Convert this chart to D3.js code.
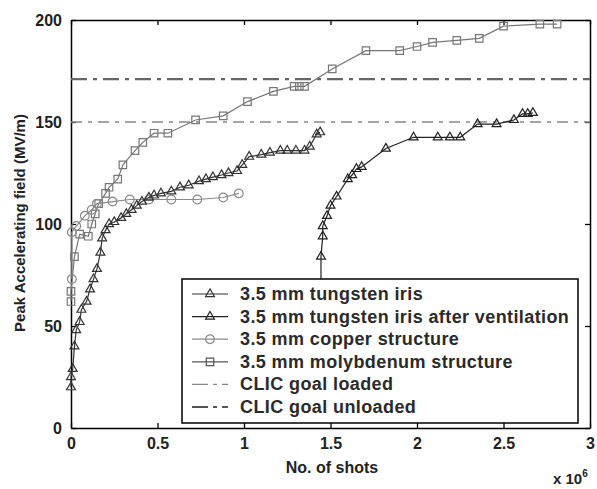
<!DOCTYPE html>
<html>
<head>
<meta charset="utf-8">
<script src="https://cdn.jsdelivr.net/npm/d3@7"></script>
<style>
  body { margin: 0; background: #fff; }
  text { font-family: "Liberation Sans", Arial, sans-serif; }
</style>
</head>
<body>
<svg id="chart" width="597" height="489"></svg>
<script>
// shots in units of 1e6, field in MV/m
const tungstenX = [0.0,0.0,0.01,0.02,0.03,0.05,0.06,0.09,0.11,0.13,0.15,0.17,0.18,0.2,0.22,0.25,0.29,0.32,0.35,0.38,0.41,0.45,0.48,0.52,0.58,0.63,0.68,0.74,0.78,0.82,0.87,0.91,0.96,0.99,1.03,1.1,1.15,1.21,1.25,1.3,1.35,1.38,1.42,1.44];
const tungstenY = [20,25,29,40,48,52,58,62,68,73,78,86,93,97,100,101,103,105,107,109,111,113,114,115,116,118,119,121,122,123,124,125,126,129,133,134,135,136,136,136,136,138,144,145];

const ventX = [1.445,1.445,1.455,1.455,1.48,1.5,1.535,1.6,1.625,1.65,1.68,1.82,1.98,2.12,2.19,2.25,2.35,2.46,2.56,2.61,2.64,2.67];
const ventY = [40,84,94,99,104,109,113.5,122,124,127,128,137,142.5,142.5,142.5,142.5,149,149,151,154,154,154.5];

const copperX = [0.005,0.005,0.03,0.08,0.12,0.15,0.24,0.34,0.45,0.58,0.73,0.88,0.97];
const copperY = [73,96,99,104,107,110,111,112,112,112,112,113,115];

const molyX = [0.0,0.0,0.02,0.05,0.1,0.12,0.14,0.16,0.2,0.22,0.27,0.3,0.37,0.415,0.48,0.56,0.72,0.88,1.02,1.17,1.29,1.32,1.35,1.51,1.705,1.9,2.0,2.09,2.23,2.36,2.5,2.71,2.81];
const molyY = [62,67,84,95,94,100,105,110,115,118,122,129,136,140,144.5,144.5,151,153,160,165,167.5,167.5,167.5,176,185,185,187,189,190,191,197,198,198];

const goalLoaded = 150;
const goalUnloaded = 171;

const xTicks = [0,0.5,1,1.5,2,2.5,3];
const yTicks = [0,50,100,150,200];
const legendLabels = ["3.5 mm tungsten iris","3.5 mm tungsten iris after ventilation","3.5 mm copper structure","3.5 mm molybdenum structure","CLIC goal loaded","CLIC goal unloaded"];

const svg = d3.select("#chart");
const margin = {top: 20, right: 7, bottom: 61, left: 71};
const width = 597 - margin.left - margin.right;
const height = 489 - margin.top - margin.bottom;

const x = d3.scaleLinear().domain([0,3]).range([0,width]);
const y = d3.scaleLinear().domain([0,200]).range([height,0]);

const g = svg.append("g").attr("transform","translate("+margin.left+","+margin.top+")");

// axes, ticks pointing inward on all sides
g.append("g").attr("transform","translate(0,"+height+")")
  .call(d3.axisBottom(x).tickValues(xTicks).tickSizeInner(-5).tickSizeOuter(0).tickPadding(10).tickFormat(d3.format("")));
g.append("g")
  .call(d3.axisLeft(y).tickValues(yTicks).tickSizeInner(-5).tickSizeOuter(0).tickPadding(9));
g.append("g")
  .call(d3.axisTop(x).tickValues(xTicks).tickSizeInner(-5).tickSizeOuter(0).tickFormat(""));
g.append("g").attr("transform","translate("+width+",0)")
  .call(d3.axisRight(y).tickValues(yTicks).tickSizeInner(-5).tickSizeOuter(0).tickFormat(""));
g.selectAll(".domain").attr("stroke","#000").attr("stroke-width",1.5);
g.selectAll(".tick line").attr("stroke","#000").attr("stroke-width",1.3);
g.selectAll(".tick text").style("font-size","16px").style("font-weight","bold").attr("fill","#222");

// goal lines
function goalLine(sel, val, color, w, dash){
  sel.append("line").attr("x1",0).attr("x2",width).attr("y1",y(val)).attr("y2",y(val))
    .attr("stroke",color).attr("stroke-width",w).attr("stroke-dasharray",dash);
}
goalLine(g, goalLoaded, "#888", 1.6, "11,6,4,6");
goalLine(g, goalUnloaded, "#666", 2.4, "16,6,4,6");

const line = d3.line().x(d=>x(d[0])).y(d=>y(d[1]));
const tri = d3.symbol().type(d3.symbolTriangle).size(34);
const circ = d3.symbol().type(d3.symbolCircle).size(60);
const sq = d3.symbol().type(d3.symbolSquare).size(56);

const series = [
  {xs: molyX, ys: molyY, color: "#777", sym: sq},
  {xs: copperX, ys: copperY, color: "#8a8a8a", sym: circ},
  {xs: tungstenX, ys: tungstenY, color: "#333", sym: tri},
  {xs: ventX, ys: ventY, color: "#222", sym: tri}
];

series.forEach(s => {
  const pts = d3.zip(s.xs, s.ys);
  g.append("path").datum(pts).attr("d",line)
    .attr("fill","none").attr("stroke",s.color).attr("stroke-width",1.2);
  g.append("g").selectAll("path").data(pts).join("path")
    .attr("d", s.sym).attr("transform", d=>"translate("+x(d[0])+","+y(d[1])+")")
    .attr("fill","none").attr("stroke",s.color).attr("stroke-width",1.2);
});

// legend
const legend = svg.append("g").attr("transform","translate(182,279)");
legend.append("rect").attr("width",396).attr("height",144)
  .attr("fill","#fff").attr("stroke","#000").attr("stroke-width",1.5);
const legendStyles = [
  {color:"#333", sym: tri, dash: null, w: 1.2},
  {color:"#222", sym: tri, dash: null, w: 1.2},
  {color:"#8a8a8a", sym: circ, dash: null, w: 1.2},
  {color:"#555", sym: sq, dash: null, w: 1.2},
  {color:"#888", sym: null, dash: "16,5,4,5", w: 1.4},
  {color:"#555", sym: null, dash: "16,5,4,5", w: 1.8}
];
const rows = legend.selectAll("g.row").data(legendLabels).join("g")
  .attr("class","row").attr("transform",(d,i)=>"translate(0,"+(15+i*22.6)+")");
rows.append("line").attr("x1",10).attr("x2",46).attr("y1",0).attr("y2",0)
  .attr("stroke",(d,i)=>legendStyles[i].color).attr("stroke-width",(d,i)=>legendStyles[i].w)
  .attr("stroke-dasharray",(d,i)=>legendStyles[i].dash);
rows.filter((d,i)=>legendStyles[i].sym)
  .append("path").attr("d",(d,i)=>legendStyles[legendLabels.indexOf(d)].sym())
  .attr("transform","translate(28,0)")
  .attr("fill","none").attr("stroke",d=>legendStyles[legendLabels.indexOf(d)].color).attr("stroke-width",1.2);
rows.append("text").attr("x",58).attr("y",6).text(d=>d)
  .style("font-size","18px").style("font-weight","bold").style("letter-spacing","0.4px").attr("fill","#2a2a2a");

// axis labels
svg.append("text").attr("x",332).attr("y",473).attr("text-anchor","middle")
  .style("font-size","16px").style("font-weight","bold").attr("fill","#222").text("No. of shots");
const exp = svg.append("text").attr("x",553).attr("y",484)
  .style("font-size","15px").style("font-weight","bold").attr("fill","#222");
exp.append("tspan").text("x 10");
exp.append("tspan").attr("dy",-7).style("font-size","10px").text("6");
svg.append("text").attr("transform","translate(25,223) rotate(-90)").attr("text-anchor","middle")
  .style("font-size","15px").style("font-weight","bold").attr("fill","#222")
  .text("Peak Accelerating field (MV/m)");
</script>
</body>
</html>
